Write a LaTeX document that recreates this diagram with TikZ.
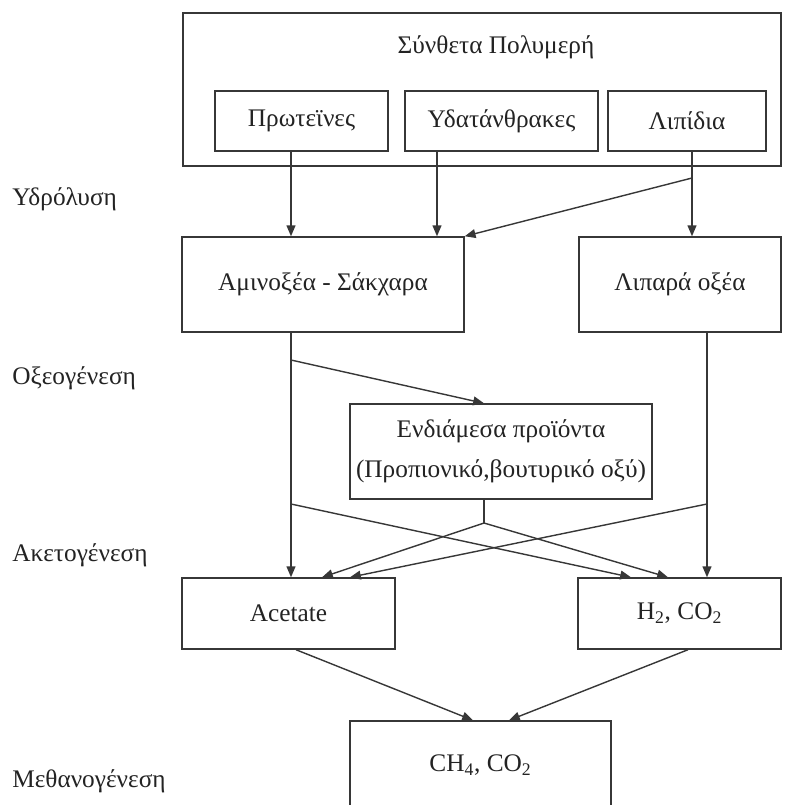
\documentclass[tikz,border=0pt]{standalone}
\usepackage{fontspec}
\setmainfont{Liberation Serif}
\usetikzlibrary{arrows.meta}
\definecolor{ln}{RGB}{55,55,55}
\definecolor{tx}{RGB}{35,35,35}
\begin{document}
\begin{tikzpicture}[x=0.025cm,y=-0.025cm,
  box/.style={draw=ln, line width=1pt, rectangle, inner sep=0pt, text=tx,
    font=\fontsize{18}{22}\selectfont},
  lbl/.style={text=tx, anchor=west, inner sep=0pt, font=\fontsize{18}{22}\selectfont},
  arr/.style={draw=ln, line width=1pt, -{Triangle[length=2.7mm,width=2.2mm]}},
  plain/.style={draw=ln, line width=1pt}]
\useasboundingbox (0,0) rectangle (788,805);
\clip (0,0) rectangle (788,805);

% boxes
\node[box, minimum width=14.95cm, minimum height=3.825cm] (poly) at (482,89.5) {};
\node[text=tx, inner sep=0pt, font=\fontsize{18}{22}\selectfont] (polyt) at (496,47) {Σύνθετα Πολυμερή};
\node[box, minimum width=4.325cm, minimum height=1.5cm] (prot) at (301.5,121) {Πρωτεϊνες};
\node[box, minimum width=4.825cm, minimum height=1.5cm] (carb) at (501.5,121) {Υδατάνθρακες};
\node[box, minimum width=3.95cm, minimum height=1.5cm] (lip) at (687,121) {Λιπίδια};
\node[box, minimum width=7.05cm, minimum height=2.375cm] (amino) at (323,284.5) {Αμινοξέα - Σάκχαρα};
\node[box, minimum width=5.05cm, minimum height=2.375cm] (fatty) at (680,284.5) {Λιπαρά οξέα};
\node[box, minimum width=7.55cm, minimum height=2.375cm, align=center,
  font=\fontsize{18}{28.5}\selectfont] (inter) at (501,451.5)
  {Ενδιάμεσα προϊόντα\\(Προπιονικό,βουτυρικό οξύ)};
\node[box, minimum width=5.325cm, minimum height=1.775cm] (acet) at (288.5,613.5) {Acetate};
\node[box, minimum width=5.075cm, minimum height=1.775cm] (h2) at (679.5,613.5) {H\textsubscript{2}, CO\textsubscript{2}};
\node[box, minimum width=6.525cm, minimum height=2.2cm] (ch4) at (480.5,765) {CH\textsubscript{4}, CO\textsubscript{2}};

% stage labels
\node[lbl] (l1) at (12,199) {Υδρόλυση};
\node[lbl] (l2) at (12,378) {Οξεογένεση};
\node[lbl] (l3) at (12,555) {Ακετογένεση};
\node[lbl] (l4) at (12,781) {Μεθανογένεση};

% column coordinates
\coordinate (cA) at (291,0);
\coordinate (cB) at (437,0);
\coordinate (cC) at (692,0);
\coordinate (cD) at (707,0);
\coordinate (cE) at (484,0);
\coordinate (t1) at (322,0);
\coordinate (t2) at (350,0);
\coordinate (t3) at (631,0);
\coordinate (t4) at (668,0);
\coordinate (a1) at (296,0);
\coordinate (a2) at (688,0);
\coordinate (m1) at (473,0);
\coordinate (m2) at (509,0);
\coordinate (lb) at (692,178);
\coordinate (b1) at (291,360);
\coordinate (b2) at (291,504);
\coordinate (b3) at (707,504);
\coordinate (sp) at (484,523);

% hydrolysis
\draw[arr] (prot.south -| cA) -- (amino.north -| cA);
\draw[arr] (carb.south -| cB) -- (amino.north -| cB);
\draw[arr] (lip.south -| cC) -- (fatty.north -| cC);
\draw[arr] (lb) -- (amino.north east);

% acidogenesis
\draw[arr] (amino.south -| cA) -- (acet.north -| cA);
\draw[arr] (b1) -- (inter.north -| cE);
\draw[arr] (fatty.south -| cD) -- (h2.north -| cD);

% acetogenesis
\draw[arr] (b2) -- (h2.north -| t3);
\draw[plain] (inter.south -| cE) -- (sp);
\draw[arr] (sp) -- (acet.north -| t1);
\draw[arr] (sp) -- (h2.north -| t4);
\draw[arr] (b3) -- (acet.north -| t2);

% methanogenesis
\draw[arr] (acet.south -| a1) -- (ch4.north -| m1);
\draw[arr] (h2.south -| a2) -- (ch4.north -| m2);
\end{tikzpicture}
\end{document}
